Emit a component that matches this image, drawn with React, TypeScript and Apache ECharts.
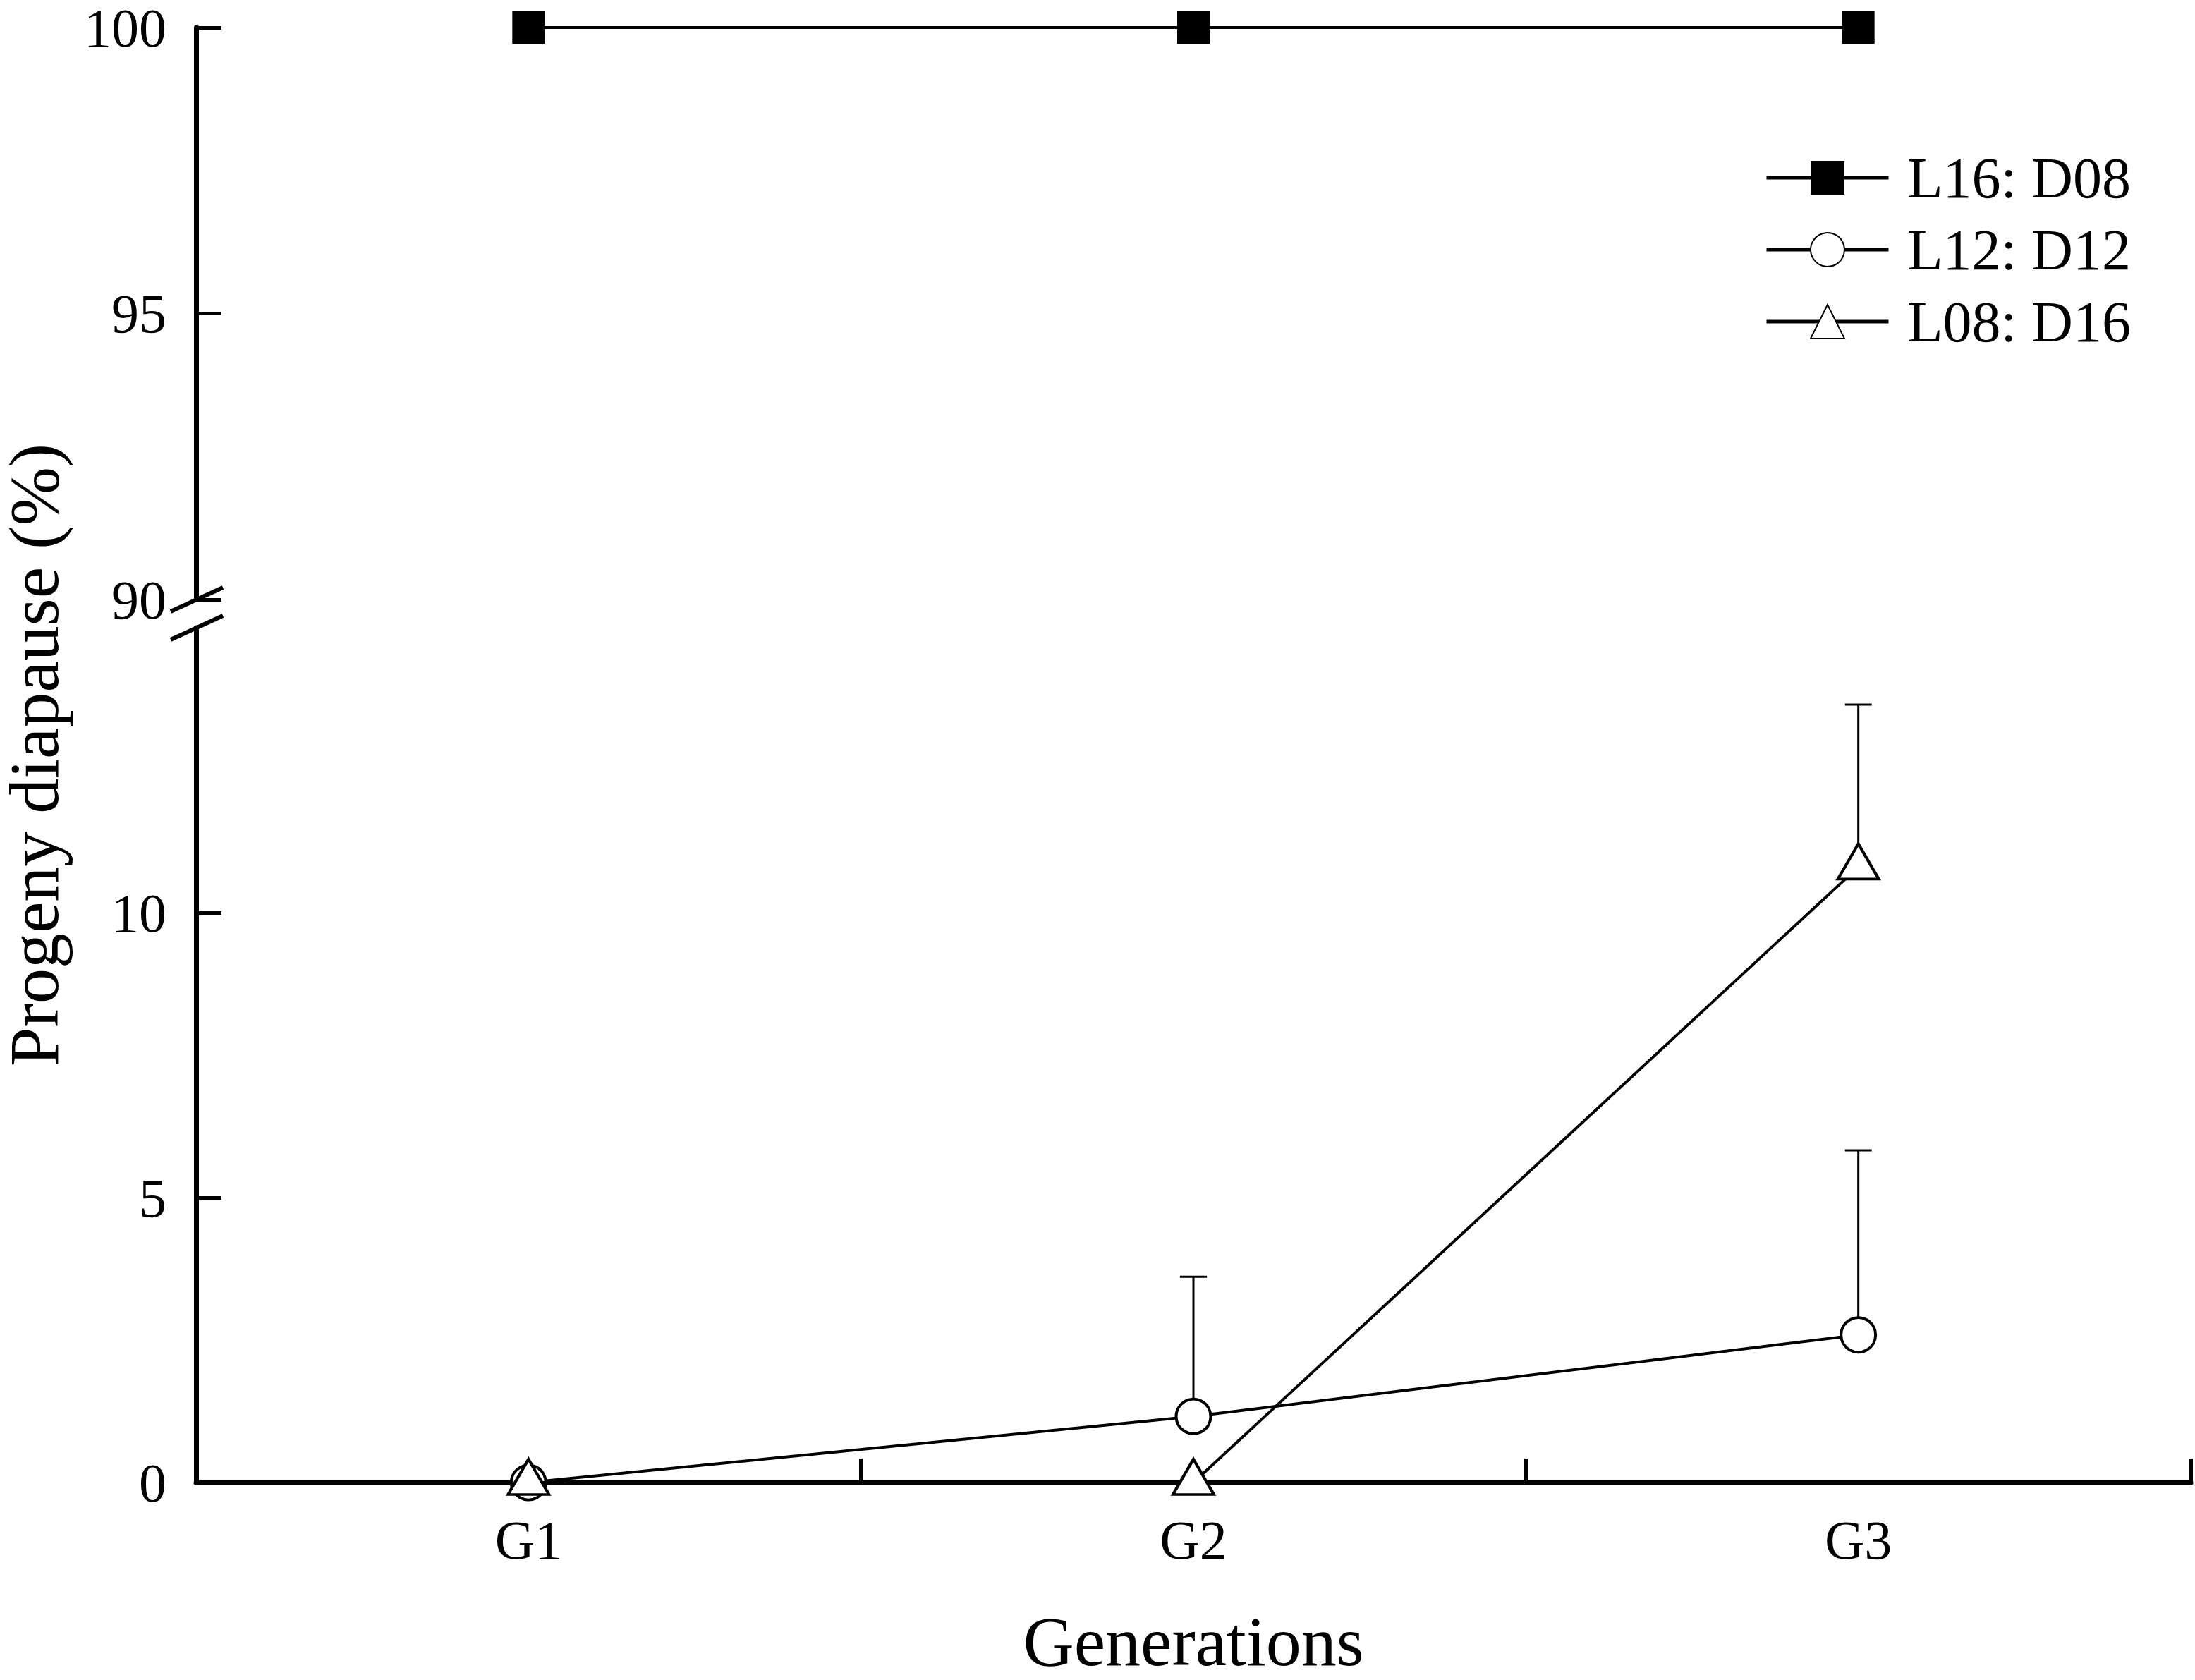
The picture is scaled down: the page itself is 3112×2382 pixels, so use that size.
import React, { useEffect, useRef } from "react";
import * as echarts from "echarts";

const categories = ["G1", "G2", "G3"];
const seriesNames = ["L16: D08", "L12: D12", "L08: D16"];
const l16Values = [100, 100, 100];
const l12Values = [0, 1.16, 2.59];
const l08Values = [0, 0, 10.8];
const l12Upper: (number | null)[] = [null, 3.61, 5.83];
const l08Upper: (number | null)[] = [null, null, 13.65];
const topTicks = [90, 95, 100];
const bottomTicks = [0, 5, 10];
const yTitle = "Progeny diapause (%)";
const xTitle = "Generations";

const FONT = "'Liberation Serif', 'Times New Roman', serif";
const W = 3112;
const H = 2382;
const GRID_LEFT = 278;
const GRID_RIGHT = 6;
const TOP_TOP = 32;
const TOP_H = 818;
const BOT_TOP = 890;
const BOT_H = 1230;

function errorData(values: number[], upper: (number | null)[]) {
  const out: number[][] = [];
  values.forEach((v, i) => {
    const u = upper[i];
    if (u != null) out.push([i, v, u]);
  });
  return out;
}

const renderError = (params: any, api: any) => {
  const x = api.value(0);
  const y = api.value(1);
  const hi = api.value(2);
  const p0 = api.coord([x, y]);
  const p1 = api.coord([x, hi]);
  const hw = 19;
  return {
    type: "group",
    children: [
      { type: "line", shape: { x1: p0[0], y1: p0[1], x2: p1[0], y2: p1[1] }, style: { stroke: "#000", lineWidth: 3 } },
      { type: "line", shape: { x1: p1[0] - hw, y1: p1[1], x2: p1[0] + hw, y2: p1[1] }, style: { stroke: "#000", lineWidth: 3 } },
    ],
  };
};

export default function App() {
  const ref = useRef<HTMLDivElement>(null);
  useEffect(() => {
    if (!ref.current) return;
    const chart = echarts.init(ref.current, undefined, { renderer: "svg" });
    const axisLine = { show: true, lineStyle: { color: "#000", width: 7 } };
    const labelStyle = { color: "#000", fontFamily: FONT, fontSize: 78 };
    const option: any = {
      animation: false,
      backgroundColor: "#fff",
      grid: [
        { left: GRID_LEFT, right: GRID_RIGHT, top: TOP_TOP, height: TOP_H },
        { left: GRID_LEFT, right: GRID_RIGHT, top: BOT_TOP, height: BOT_H },
      ],
      xAxis: [
        { type: "category", gridIndex: 0, data: categories, boundaryGap: true, show: false },
        {
          type: "category",
          gridIndex: 1,
          data: categories,
          boundaryGap: true,
          axisLine,
          axisTick: { show: true, inside: true, length: 34, lineStyle: { color: "#000", width: 5 } },
          axisLabel: { ...labelStyle, margin: 42 },
          splitLine: { show: false },
          name: xTitle,
          nameLocation: "middle",
          nameGap: 175,
          nameTextStyle: { color: "#000", fontFamily: FONT, fontSize: 100 },
        },
      ],
      yAxis: [
        {
          type: "value",
          gridIndex: 0,
          min: 90,
          max: 100,
          axisLine,
          axisTick: { show: true, inside: true, length: 36, lineStyle: { color: "#000", width: 5 }, customValues: topTicks },
          axisLabel: { ...labelStyle, margin: 42, customValues: topTicks },
          splitLine: { show: false },
        },
        {
          type: "value",
          gridIndex: 1,
          min: 0,
          max: 15,
          axisLine,
          axisTick: { show: true, inside: true, length: 36, lineStyle: { color: "#000", width: 5 }, customValues: bottomTicks },
          axisLabel: { ...labelStyle, margin: 42, customValues: bottomTicks },
          splitLine: { show: false },
        },
      ],
      legend: {
        data: seriesNames,
        orient: "vertical",
        left: 2497,
        top: 206,
        itemWidth: 173,
        itemHeight: 60,
        itemGap: 20,
        lineStyle: { width: 5, color: "#000" },
        textStyle: { color: "#000", fontFamily: FONT, fontSize: 82, padding: [0, 0, 0, 22] },
      },
      series: [
        {
          name: seriesNames[0],
          type: "line",
          xAxisIndex: 0,
          yAxisIndex: 0,
          data: l16Values,
          symbol: "rect",
          symbolSize: 46,
          lineStyle: { color: "#000", width: 4 },
          itemStyle: { color: "#000", borderColor: "#000", borderWidth: 0 },
          z: 3,
        },
        {
          name: seriesNames[1],
          type: "line",
          xAxisIndex: 1,
          yAxisIndex: 1,
          data: l12Values,
          symbol: "circle",
          symbolSize: 49,
          lineStyle: { color: "#000", width: 4 },
          itemStyle: { color: "#fff", borderColor: "#000", borderWidth: 4 },
          z: 3,
        },
        {
          name: seriesNames[2],
          type: "line",
          xAxisIndex: 1,
          yAxisIndex: 1,
          data: l08Values,
          symbol: "triangle",
          symbolSize: [58, 50],
          symbolOffset: [0, -8],
          lineStyle: { color: "#000", width: 4 },
          itemStyle: { color: "#fff", borderColor: "#000", borderWidth: 4 },
          z: 4,
        },
        {
          name: "err12",
          type: "custom",
          xAxisIndex: 1,
          yAxisIndex: 1,
          data: errorData(l12Values, l12Upper),
          renderItem: renderError,
          z: 1,
          silent: true,
        },
        {
          name: "err08",
          type: "custom",
          xAxisIndex: 1,
          yAxisIndex: 1,
          data: errorData(l08Values, l08Upper),
          renderItem: renderError,
          z: 1,
          silent: true,
        },
      ],
    };
    chart.setOption(option);

    const y90 = chart.convertToPixel({ yAxisIndex: 0 }, 90) as number;
    const y100 = chart.convertToPixel({ yAxisIndex: 0 }, 100) as number;
    const y15 = chart.convertToPixel({ yAxisIndex: 1 }, 15) as number;
    const y0 = chart.convertToPixel({ yAxisIndex: 1 }, 0) as number;
    const ax = GRID_LEFT;
    const slash = (yc: number) => ({
      type: "line",
      shape: { x1: ax - 36, y1: yc + 17, x2: ax + 38, y2: yc - 17 },
      style: { stroke: "#000", lineWidth: 6 },
      z: 10,
    });
    chart.setOption({
      graphic: [
        slash(y90),
        slash(y15),
        {
          type: "text",
          x: 48,
          y: (y100 + y0) / 2,
          rotation: Math.PI / 2,
          style: {
            text: yTitle,
            font: `100px ${FONT}`,
            fill: "#000",
            align: "center",
            verticalAlign: "middle",
          },
        },
      ],
    });
    return () => chart.dispose();
  }, []);
  return <div ref={ref} style={{ position: "absolute", left: 0, top: 0, width: W, height: H }} />;
}
